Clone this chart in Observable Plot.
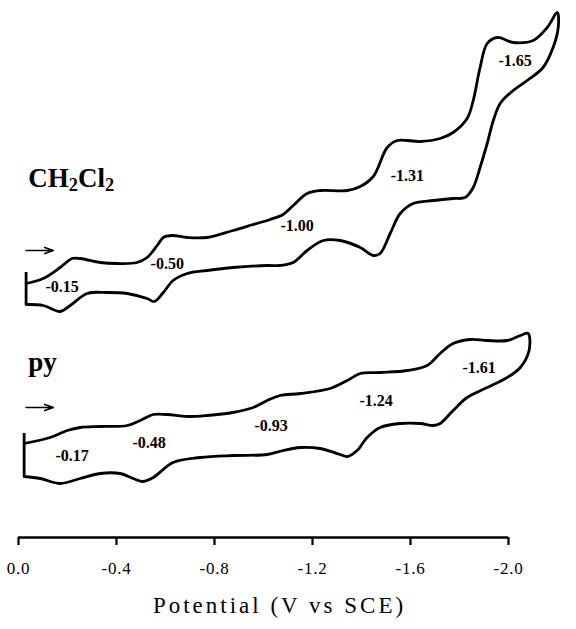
<!DOCTYPE html>
<html><head><meta charset="utf-8">
<script src="https://cdn.jsdelivr.net/npm/d3@7"></script>
<script src="https://cdn.jsdelivr.net/npm/@observablehq/plot@0.6"></script>
<style>body{margin:0;background:#fff}</style>
</head><body><div id="chart"></div>
<script>
// Potential (V vs SCE) and current (arbitrary units, traces offset)
const ch2cl2Potential = [-0.031,-0.101,-0.170,-0.219,-0.252,-0.333,-0.403,-0.484,-0.525,-0.566,-0.591,-0.627,-0.689,-0.770,-0.876,-0.958,-1.027,-1.080,-1.121,-1.178,-1.231,-1.342,-1.395,-1.448,-1.505,-1.546,-1.640,-1.721,-1.774,-1.831,-1.856,-1.884,-1.913,-1.954,-2.019,-2.101,-2.158,-2.199,
  -2.203,-2.182,-2.141,-2.076,-2.019,-1.966,-1.938,-1.913,-1.884,-1.856,-1.823,-1.774,-1.693,-1.611,-1.558,-1.517,-1.476,-1.448,-1.395,-1.313,-1.244,-1.178,-1.121,-1.068,-1.015,-0.876,-0.770,-0.689,-0.631,-0.591,-0.554,-0.525,-0.444,-0.362,-0.280,-0.211,-0.170,-0.101,-0.031];
const ch2cl2Current = [254,259,270,279,279,275,274,275,280,292,300,302,300,300,307,313,318,323,332,344,347,347,351,361,390,397,396,399,405,419,437,470,494,500,495,497,510,525,
  510,490,470,457,447,434,417,394,370,350,340,339,337,334,324,304,284,282,290,297,297,287,275,272,272,270,267,264,257,245,236,239,244,245,244,232,226,232,233];
const ch2cl2Start = {potential: -0.031, low: 233, high: 265};

const pyPotential = [-0.023,-0.129,-0.199,-0.252,-0.333,-0.444,-0.497,-0.550,-0.607,-0.689,-0.770,-0.876,-0.958,-1.015,-1.068,-1.150,-1.272,-1.342,-1.395,-1.476,-1.587,-1.668,-1.721,-1.774,-1.844,-1.913,-1.995,-2.048,-2.080,
  -2.084,-2.048,-1.995,-1.913,-1.831,-1.774,-1.721,-1.693,-1.640,-1.558,-1.476,-1.423,-1.382,-1.342,-1.313,-1.231,-1.150,-1.080,-1.015,-0.876,-0.741,-0.631,-0.550,-0.509,-0.468,-0.415,-0.333,-0.252,-0.170,-0.089,-0.023];
const pyCurrent = [94,100,107,110,111,112,117,123,123,121,122,125,130,137,142,144,149,157,164,165,167,172,184,194,198,197,197,202,204,
  187,170,160,150,140,127,114,112,114,114,110,100,87,81,83,89,90,87,83,82,80,75,60,56,59,64,64,59,54,59,61];
const pyStart = {potential: -0.023, low: 61, high: 104};

// Half-wave potential annotations
const ch2cl2Labels = ["-0.15","-0.50","-1.00","-1.31","-1.65"];
const ch2cl2LabelPotential = [-0.178,-0.607,-1.137,-1.587,-2.027];
const ch2cl2LabelCurrent = [251,274,312,362,477];
const pyLabels = ["-0.17","-0.48","-0.93","-1.24","-1.61"];
const pyLabelPotential = [-0.219,-0.533,-1.031,-1.460,-1.880];
const pyLabelCurrent = [82,95,112,137,170];

const solventNames = ["CH2Cl2","py"];
const solventLabelPotential = [-0.040,-0.040];
const solventLabelCurrent = [359,175];

const arrowPotentialStart = [-0.031,-0.031];
const arrowPotentialEnd = [-0.142,-0.142];
const arrowCurrent = [287,130];

const tickValues = [0.0,-0.4,-0.8,-1.2,-1.6,-2.0];
const tickLabels = ["0.0","-0.4","-0.8","-1.2","-1.6","-2.0"];
const axisTitle = "Potential (V vs SCE)";

const serif = "'Liberation Serif','Times New Roman',Times,serif";
const zip = (vs, is) => vs.map((v,i)=>({potential:v, current:is[i]}));
const ch2 = zip(ch2cl2Potential, ch2cl2Current);
const py = zip(pyPotential, pyCurrent);
const labels = [
  ...ch2cl2Labels.map((t,i)=>({text:t, potential:ch2cl2LabelPotential[i], current:ch2cl2LabelCurrent[i]})),
  ...pyLabels.map((t,i)=>({text:t, potential:pyLabelPotential[i], current:pyLabelCurrent[i]}))
];
const solvents = solventNames.map((t,i)=>({text:t, potential:solventLabelPotential[i], current:solventLabelCurrent[i]}));
const arrows = arrowCurrent.map((c,i)=>({x1:arrowPotentialStart[i], x2:arrowPotentialEnd[i], y:c}));
const starts = [ch2cl2Start, pyStart];

const chart = Plot.plot({
  width: 576, height: 629,
  marginLeft: 18, marginRight: 68, marginTop: 0, marginBottom: 92,
  style: {fontFamily: serif, background: "white", color: "black"},
  x: {domain: [0, -2]},
  y: {domain: [0, 537], axis: null},
  marks: [
    Plot.ruleY([0], {strokeWidth: 2.4, stroke: "black"}),
    Plot.axisX({ticks: tickValues, tickFormat: d => tickLabels[tickValues.indexOf(d)], tickSize: 8, tickPadding: 16, fontSize: 17, strokeWidth: 2.2, label: null, fontVariant: "normal", fill: "black"}),
    Plot.text([axisTitle], {frameAnchor: "bottom", dy: 75, dx: 16, fontSize: 23, fill: "black"}),
    Plot.line(ch2, {x: "potential", y: "current", curve: "catmull-rom", strokeWidth: 2.8, stroke: "black"}),
    Plot.line(py, {x: "potential", y: "current", curve: "catmull-rom", strokeWidth: 2.8, stroke: "black"}),
    Plot.ruleX(starts, {x: "potential", y1: "low", y2: "high", strokeWidth: 2.8, stroke: "black"}),
    Plot.arrow(arrows, {x1: "x1", x2: "x2", y1: "y", y2: "y", headLength: 9, headAngle: 40, strokeWidth: 1.6, stroke: "black"}),
    Plot.text(labels, {x: "potential", y: "current", text: "text", fontSize: 16, fontWeight: "bold", fill: "black"}),
    Plot.text(solvents, {x: "potential", y: "current", text: "text", fontSize: 27, fontWeight: "bold", textAnchor: "start", fill: "black"})
  ]
});
document.getElementById("chart").appendChild(chart);

const svg = d3.select(chart);
svg.selectAll("text").filter(function(){ return tickLabels.includes(this.textContent) && !this.closest('[font-weight="bold"]'); })
  .attr("font-size", "17").style("font-size", "17px").style("letter-spacing", "0.8px");
svg.selectAll("text").filter(function(){ return this.textContent === axisTitle; })
  .style("letter-spacing", "3px");
svg.selectAll("text").filter(function(){ return this.textContent === "CH2Cl2"; })
  .each(function(){
    const t = d3.select(this);
    t.text(null);
    t.append("tspan").text("CH");
    t.append("tspan").attr("font-size", "0.68em").attr("dy", "0.22em").text("2");
    t.append("tspan").attr("dy", "-0.15em").text("Cl");
    t.append("tspan").attr("font-size", "0.68em").attr("dy", "0.22em").text("2");
  });
</script>
</body></html>
